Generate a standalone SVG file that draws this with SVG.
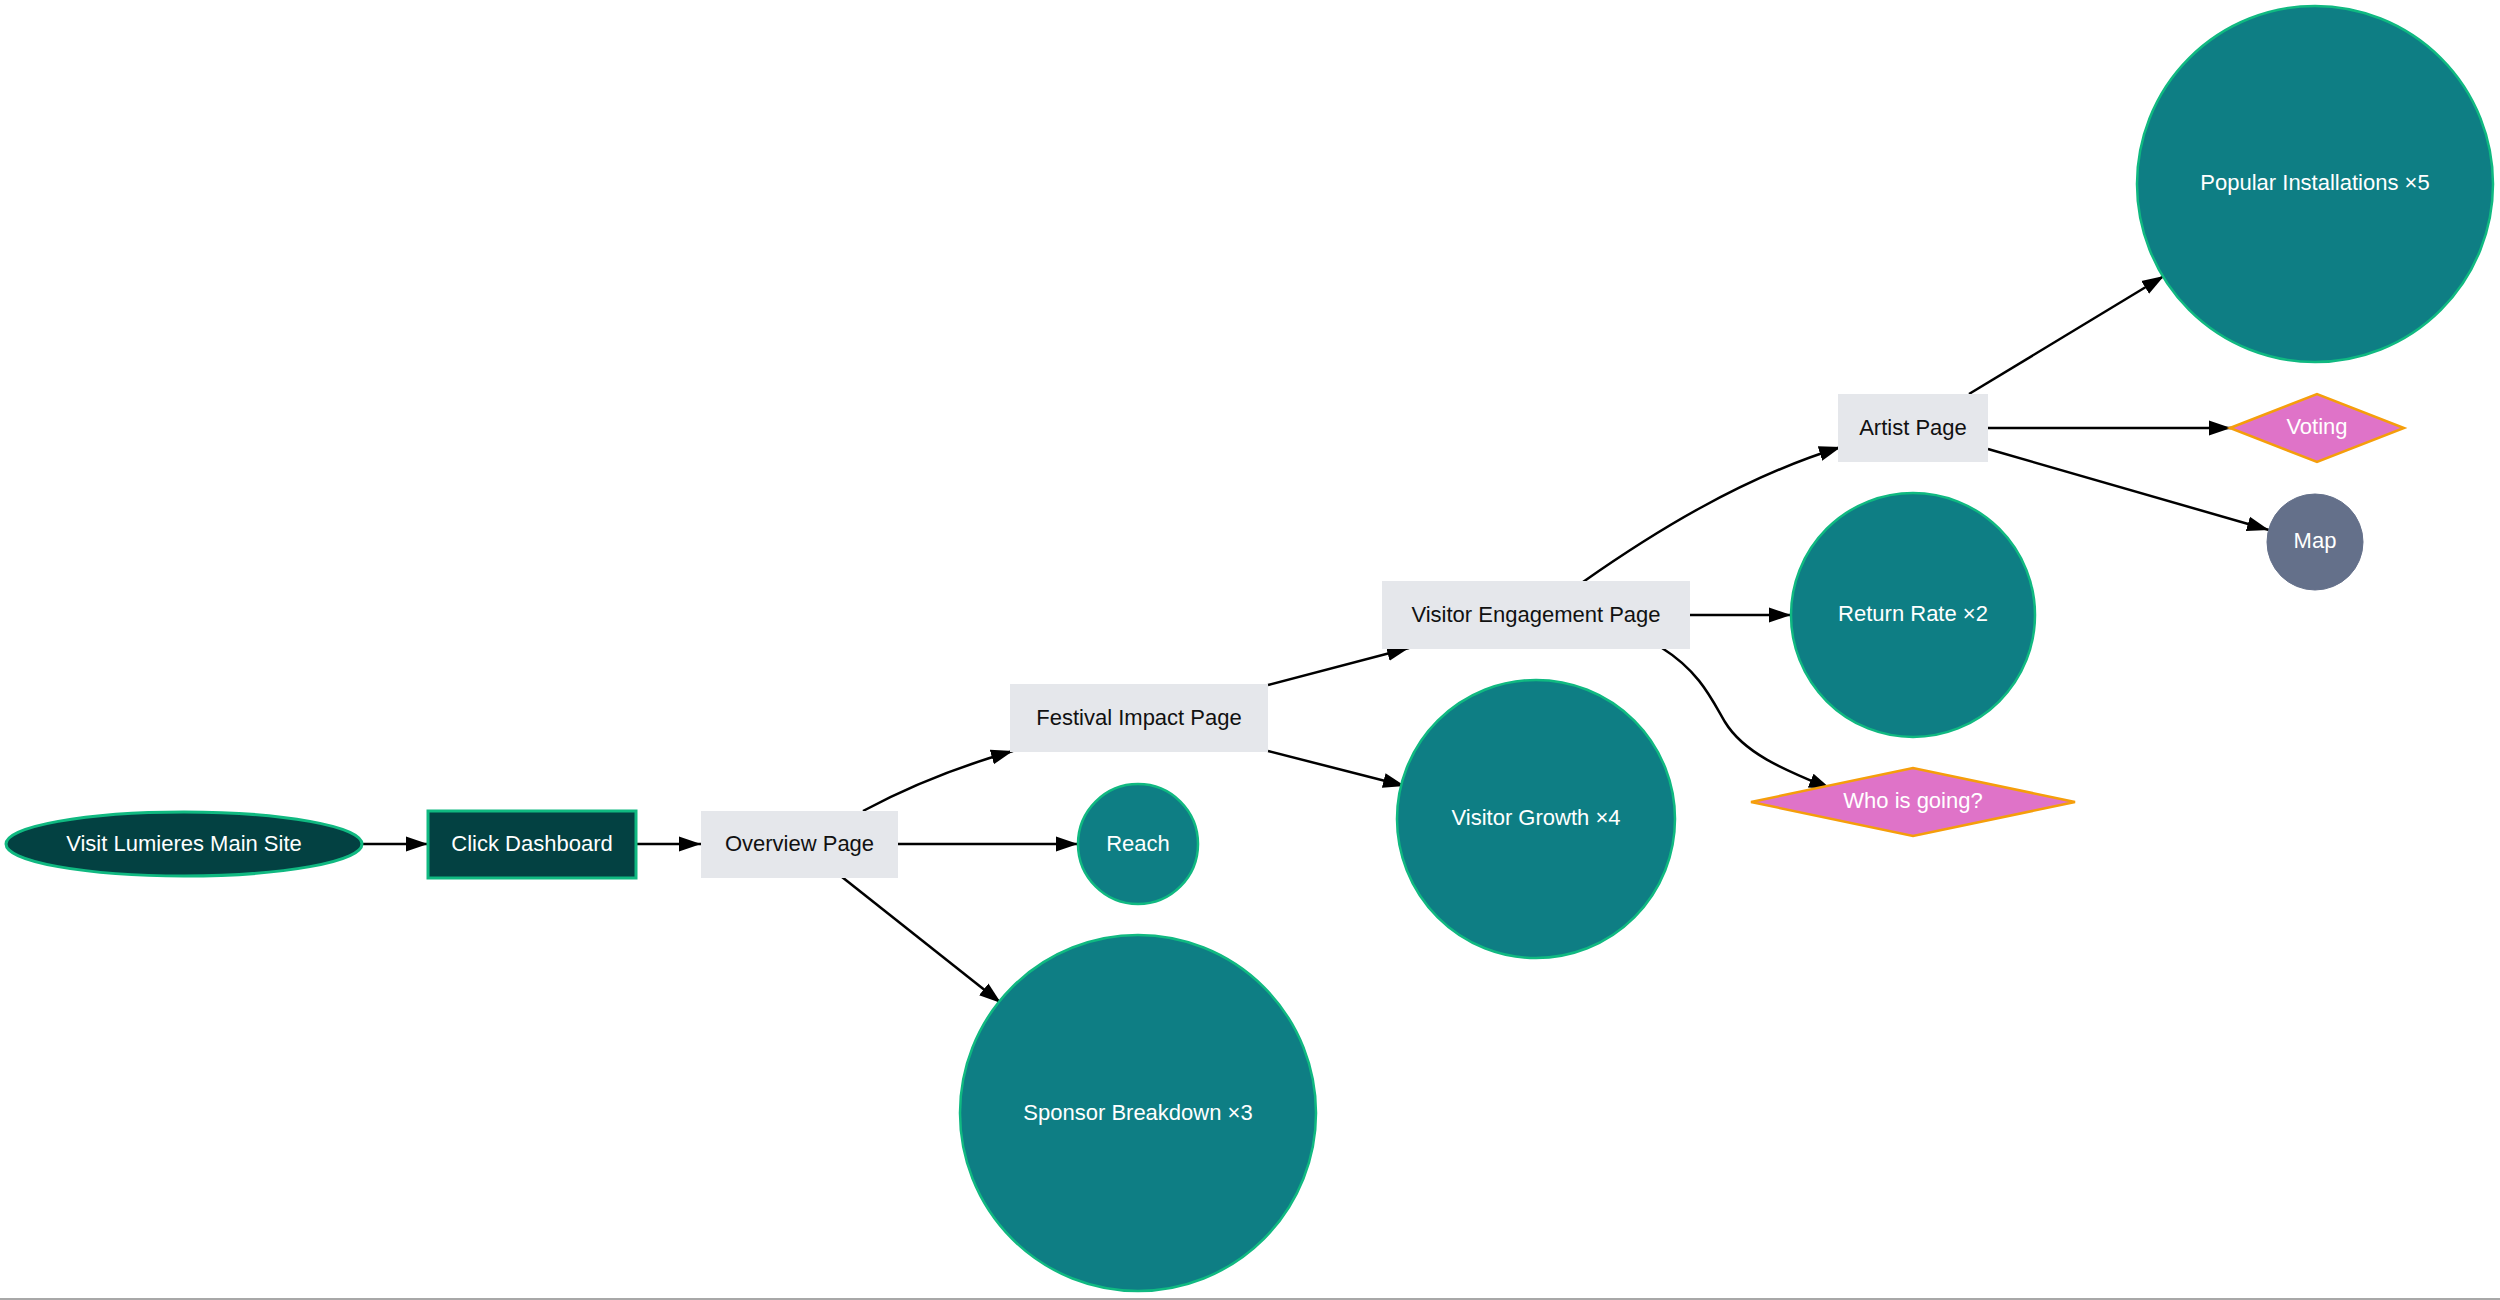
<svg xmlns="http://www.w3.org/2000/svg" width="2500" height="1300" viewBox="0 0 2500 1300">
<defs>
<marker id="arr" markerUnits="userSpaceOnUse" markerWidth="23" markerHeight="16" refX="22" refY="8" orient="auto">
<path d="M0,0.5 L22,8 L0,15.5 z" fill="#000"/>
</marker>
<style>
.edge{fill:none;stroke:#000;stroke-width:2.5;marker-end:url(#arr)}
.lbl{font-family:"Liberation Sans",Arial,Helvetica,sans-serif;font-size:22px;text-anchor:middle;dominant-baseline:central}
.w{fill:#fff}
.k{fill:#111}
.metric{fill:#0e7e84;stroke:#10b981;stroke-width:2.5}
.page{fill:#e5e7eb;stroke:none}
.dark{fill:#034142;stroke:#10b981;stroke-width:3}
.dec{fill:#df73c8;stroke:#f59e0b;stroke-width:2.5}
.map{fill:#64708a;stroke:#64708a;stroke-width:1}
</style>
</defs>
<rect width="2500" height="1300" fill="#fff"/>
<line x1="0" y1="1299" x2="2500" y2="1299" stroke="#a8a8a8" stroke-width="2"/>
<g id="connectors">
<path class="edge" d="M362,844 L428,844"/>
<path class="edge" d="M636,844 L701,844"/>
<path class="edge" d="M898,844 L1078,844"/>
<path class="edge" d="M842,877 L1001,1003"/>
<path class="edge" d="M863,811 Q932,774 1013,751"/>
<path class="edge" d="M1268,685 L1409,648"/>
<path class="edge" d="M1268,751 L1405,786"/>
<path class="edge" d="M1690,615 L1791,615"/>
<path class="edge" d="M1662,648 C1700,672 1712,700 1725,722 C1745,755 1790,772 1831,789"/>
<path class="edge" d="M1583,582 C1650,535 1740,478 1841,447"/>
<path class="edge" d="M1969,394 L2164,276"/>
<path class="edge" d="M1988,428 L2231,428"/>
<path class="edge" d="M1988,449 L2269,530"/>
</g>
<g id="start">
<ellipse class="dark" cx="184" cy="844" rx="178" ry="32"/>
<text class="lbl w" x="184" y="843">Visit Lumieres Main Site</text>
</g>
<g id="click">
<rect class="dark" x="428" y="811" width="208" height="67"/>
<text class="lbl w" x="532" y="843">Click Dashboard</text>
</g>
<g id="overview">
<rect class="page" x="701" y="811" width="197" height="67"/>
<text class="lbl k" x="799.5" y="843">Overview Page</text>
</g>
<g id="reach">
<circle class="metric" cx="1138" cy="844" r="60"/>
<text class="lbl w" x="1138" y="843">Reach</text>
</g>
<g id="sponsor">
<circle class="metric" cx="1138" cy="1113" r="178"/>
<text class="lbl w" x="1138" y="1112">Sponsor Breakdown ×3</text>
</g>
<g id="festival">
<rect class="page" x="1010" y="684" width="258" height="68"/>
<text class="lbl k" x="1139" y="717">Festival Impact Page</text>
</g>
<g id="engagement">
<rect class="page" x="1382" y="581" width="308" height="68"/>
<text class="lbl k" x="1536" y="614">Visitor Engagement Page</text>
</g>
<g id="growth">
<circle class="metric" cx="1536" cy="819" r="139"/>
<text class="lbl w" x="1536" y="817">Visitor Growth ×4</text>
</g>
<g id="return">
<circle class="metric" cx="1913" cy="615" r="122"/>
<text class="lbl w" x="1913" y="613">Return Rate ×2</text>
</g>
<g id="who">
<polygon class="dec" points="1751,802 1913,768 2075,802 1913,836"/>
<text class="lbl w" x="1913" y="800">Who is going?</text>
</g>
<g id="artist">
<rect class="page" x="1838" y="394" width="150" height="68"/>
<text class="lbl k" x="1913" y="427">Artist Page</text>
</g>
<g id="popular">
<circle class="metric" cx="2315" cy="184" r="178"/>
<text class="lbl w" x="2315" y="182">Popular Installations ×5</text>
</g>
<g id="voting">
<polygon class="dec" points="2230,428 2317,394 2404,428 2317,462"/>
<text class="lbl w" x="2317" y="426">Voting</text>
</g>
<g id="map">
<circle class="map" cx="2315" cy="542" r="48"/>
<text class="lbl w" x="2315" y="540">Map</text>
</g>
</svg>
